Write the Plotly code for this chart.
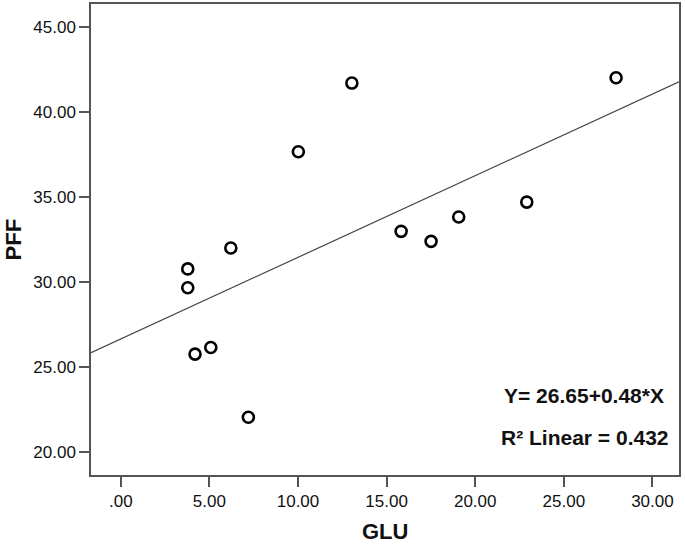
import plotly.graph_objects as go

glu = [3.78, 3.78, 6.21, 4.19, 5.08, 7.20, 10.02, 13.04, 15.82, 17.51, 19.07, 22.91, 27.95]
pff = [30.77, 29.66, 32.00, 25.76, 26.15, 22.05, 37.66, 41.70, 32.98, 32.39, 33.82, 34.70, 42.01]

# Recta de regresión indicada en el gráfico
intercept = 26.65
slope = 0.48
r2 = 0.432

x_ticks = [0, 5, 10, 15, 20, 25, 30]
x_tick_labels = [".00", "5.00", "10.00", "15.00", "20.00", "25.00", "30.00"]
y_ticks = [20, 25, 30, 35, 40, 45]
y_tick_labels = ["20.00", "25.00", "30.00", "35.00", "40.00", "45.00"]

x_range = [-1.68, 31.5]
y_range = [18.65, 46.35]

FONT = "Liberation Sans, Arial, sans-serif"
AXIS_COLOR = "#555555"
TEXT_COLOR = "#111111"

fig = go.Figure()

fit_x = [x_range[0], x_range[1]]
fit_y = [intercept + slope * v for v in fit_x]
fig.add_trace(go.Scatter(
    x=fit_x, y=fit_y, mode="lines",
    line=dict(color="#444444", width=1.2),
    hoverinfo="skip"
))

fig.add_trace(go.Scatter(
    x=glu, y=pff, mode="markers",
    marker=dict(symbol="circle-open", size=11, color="black",
                line=dict(color="black", width=2.6))
))

axis_common = dict(
    showgrid=False, zeroline=False, showline=True, mirror=True,
    linecolor=AXIS_COLOR, linewidth=1.5,
    ticks="outside", ticklen=10, tickwidth=1.5, tickcolor=AXIS_COLOR,
    tickfont=dict(family=FONT, size=17, color=TEXT_COLOR),
)

fig.update_xaxes(range=x_range, tickvals=x_ticks, ticktext=x_tick_labels, **axis_common)
fig.update_yaxes(range=y_range, tickvals=y_ticks, ticktext=y_tick_labels, **axis_common)

# Títulos de ejes como anotaciones para ubicarlos con precisión
fig.add_annotation(
    text="<b>PFF</b>", textangle=-90, xref="paper", yref="paper",
    x=-0.131, y=0.5, xanchor="center", yanchor="middle", showarrow=False,
    font=dict(family=FONT, size=22, color=TEXT_COLOR)
)
fig.add_annotation(
    text="<b>GLU</b>", xref="paper", yref="paper",
    x=0.5, y=-0.1205, xanchor="center", yanchor="middle", showarrow=False,
    font=dict(family=FONT, size=22, color=TEXT_COLOR)
)
fig.add_annotation(
    text=f"<b>Y= {intercept:.2f}+{slope:.2f}*X</b>", xref="paper", yref="paper",
    x=0.978, y=0.169, xanchor="right", yanchor="middle", showarrow=False,
    font=dict(family=FONT, size=21, color=TEXT_COLOR)
)
fig.add_annotation(
    text=f"<b>R² Linear = {r2:.3f}</b>", xref="paper", yref="paper",
    x=0.986, y=0.080, xanchor="right", yanchor="middle", showarrow=False,
    font=dict(family=FONT, size=21, color=TEXT_COLOR)
)

fig.update_layout(
    width=685, height=545,
    margin=dict(l=91, r=6, t=2, b=70),
    plot_bgcolor="white", paper_bgcolor="white",
    showlegend=False,
)

fig.write_html("out.html", config={"displayModeBar": False},
               post_script="document.body.style.margin='0';")
